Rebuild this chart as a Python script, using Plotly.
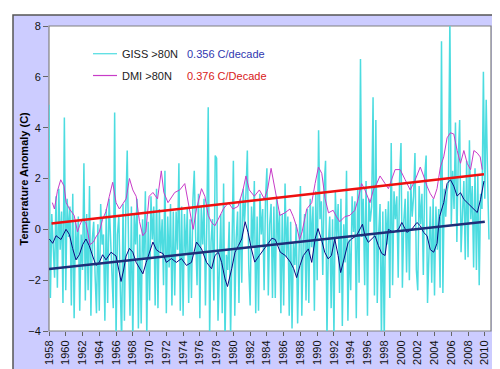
import plotly.graph_objects as go

# ---------------- data ----------------
# GISS >80N, approx. bimonthly samples starting Jan 1958
giss_start = 1958.0
giss_step = 1 / 6
giss_values = [
    4.9, -2.7, 0.6, -0.4, -1.9, 1.3,      # 1958
    -2.3, 1.6, -0.8, 0.7, -2.9, 4.4,      # 1959
    -2.4, 1.2, -0.3, 0.9, -3.0, 1.4,      # 1960
    -3.5, 0.3, -1.2, 0.5, -3.2, -0.2,     # 1961
    -1.6, 2.6, -2.8, 0.6, -2.4, 1.7,      # 1962
    -3.4, -0.4, 0.3, -1.8, -3.3, 0.2,     # 1963
    -3.2, 1.0, -0.6, -0.2, -3.6, 0.8,     # 1964
    -2.9, 1.2, -0.5, -1.4, -3.1, 4.6,     # 1965
    -4.3, -0.2, 0.5, -2.2, -4.4, 1.0,     # 1966
    -3.6, 0.8, 3.1, -0.8, -3.4, 0.9,      # 1967
    -4.5, 0.6, -0.6, 1.2, -3.9, -0.2,     # 1968
    -3.7, 0.4, -1.2, 1.5, -4.2, 0.3,      # 1969
    -2.8, 1.3, -0.4, 0.9, -3.0, 1.6,      # 1970
    -3.1, 0.8, -0.9, 0.4, -2.2, 2.3,      # 1971
    -3.3, 0.5, -1.5, 1.0, -3.0, 0.7,      # 1972
    -2.6, 0.7, -0.8, 2.6, -3.2, 0.9,      # 1973
    -3.4, 0.6, -1.0, 0.8, -2.9, 0.4,      # 1974
    -2.7, 1.1, 2.3, -0.3, -2.2, 1.4,      # 1975
    -3.5, 0.9, -0.6, 1.2, -3.0, 0.3,      # 1976
    4.8, -4.2, -0.5, 0.4, -2.8, 2.9,      # 1977
    2.8, -3.6, -0.9, 0.6, -3.3, 1.8,      # 1978
    -4.5, -1.0, -1.6, 0.3, -4.2, -0.6,    # 1979
    2.7, -3.4, -0.4, 0.7, -2.9, 1.2,      # 1980
    -2.1, 1.6, 0.3, 1.4, 3.1, -1.4,       # 1981
    -3.0, 0.9, -0.7, 1.9, -3.3, 0.5,      # 1982
    -3.2, 1.4, -0.2, 0.8, -2.4, 1.2,      # 1983
    2.4, -2.6, 0.2, 1.0, -2.7, 0.9,       # 1984
    -2.7, 1.3, -0.6, 0.7, -3.3, 0.6,      # 1985
    -3.0, 1.8, -1.1, 0.5, -3.4, 0.3,      # 1986
    -3.9, -0.5, -1.4, 0.2, -3.7, -0.9,    # 1987
    1.7, -3.4, -0.5, 0.6, -2.8, 0.8,      # 1988
    -2.9, 1.2, -0.7, 0.9, -3.2, 1.5,      # 1989
    -2.0, 3.9, 0.4, 1.1, -1.8, 1.7,       # 1990
    2.7, -4.3, -0.6, 0.5, -3.1, 0.4,      # 1991
    -4.2, 1.5, -0.3, 1.0, -2.5, 1.2,      # 1992
    -3.8, 0.2, -1.3, 2.3, -3.6, -0.4,     # 1993
    -2.4, 1.3, -0.1, 1.1, -3.5, 1.6,      # 1994
    -2.1, 6.7, -0.3, 1.2, -2.2, 1.9,      # 1995
    -3.4, 1.2, 0.3, 0.9, 5.2, -2.6,       # 1996
    4.3, -2.9, -0.2, 1.0, -4.3, 0.7,      # 1997
    -4.4, 0.8, -0.6, 1.1, -2.7, 3.4,      # 1998
    -2.2, 1.5, 0.4, 1.3, -1.9, 2.0,       # 1999
    3.4, -2.3, 0.3, 1.2, -1.7, 1.5,       # 2000
    -2.0, 1.8, 0.5, 1.3, 3.0, -1.6,       # 2001
    -2.4, 1.7, 0.2, 1.4, -1.8, 2.1,       # 2002
    2.9, -2.9, -0.3, 0.9, -2.1, 1.2,      # 2003
    -2.6, 0.9, -0.8, 0.8, -2.3, 7.4,      # 2004
    -2.5, 1.6, 0.5, 1.5, 1.8, 8.3,        # 2005
    0.2, 2.3, 0.8, 4.2, -0.5, 2.8,        # 2006
    4.3, -0.9, 0.6, 1.9, -1.2, 2.7,       # 2007
    -1.1, 3.5, 0.4, 1.7, -1.5, 2.4,       # 2008
    -1.6, 2.1, -2.2, 1.4, 0.8, 6.2,       # 2009
    1.2, 5.1, 2.0, -0.4,                  # 2010
]

# GISS >80N smoothed (dark blue)
giss_smooth_years = [
    1958.04, 1958.44, 1958.84, 1959.43, 1960.03, 1960.43, 1960.82, 1961.22, 1961.62, 1962.02,
    1962.41, 1962.81, 1963.21, 1963.61, 1964.0, 1964.4, 1964.8, 1965.4, 1966.0, 1966.6,
    1966.9, 1967.2, 1967.6, 1968.0, 1968.4, 1968.8, 1969.2, 1969.6, 1970.0, 1970.4,
    1970.8, 1971.2, 1971.6, 1972.0, 1972.6, 1973.2, 1973.8, 1974.4, 1975.0, 1975.6,
    1976.2, 1976.8, 1977.4, 1977.8, 1978.2, 1978.6, 1979.0, 1979.3, 1979.8, 1980.2,
    1980.6, 1981.0, 1981.4, 1981.75, 1982.15, 1982.55, 1983.1, 1983.7, 1984.3, 1984.6,
    1985.0, 1985.6, 1986.2, 1986.8, 1987.2, 1987.55, 1987.95, 1988.35, 1988.95, 1989.35,
    1989.75, 1990.1, 1990.5, 1990.9, 1991.3, 1991.7, 1992.1, 1992.5, 1992.8, 1993.3,
    1993.7, 1994.1, 1994.7, 1995.4, 1995.7, 1996.1, 1996.5, 1996.9, 1997.3, 1997.7,
    1998.1, 1998.5, 1999.1, 1999.7, 2000.1, 2000.7, 2001.3, 2001.9, 2002.3, 2002.7,
    2003.1, 2003.5, 2003.9, 2004.3, 2004.6, 2005.1, 2005.5, 2005.9, 2006.3, 2006.7,
    2007.1, 2007.5, 2007.9, 2008.3, 2008.7, 2009.1, 2009.5, 2009.9,
]
giss_smooth_values = [
    -0.38, -0.55, -0.25, -0.40, 0.0, -0.2, -0.75, -1.2, -1.0, -0.6,
    -0.38, -0.65, -1.05, -1.42, -1.3, -1.0, -1.2, -0.9, -1.05, -2.05,
    -1.6, -1.05, -0.75, -0.9, -1.3, -1.55, -1.75, -1.3, -0.9, -0.5,
    -0.8, -0.9, -0.95, -1.3, -1.15, -1.3, -1.15, -1.42, -1.3, -0.5,
    -0.77, -1.3, -1.55, -1.03, -0.9, -1.3, -1.95, -2.25, -1.55, -0.9,
    -0.64, -0.38, 0.3, -0.12, -0.77, -1.29, -1.03, -0.77, -0.51, -0.35,
    -0.4, -0.9, -1.03, -1.29, -1.55, -1.9, -1.42, -1.03, -0.77, -1.3,
    -0.38, 0.03, -0.38, -0.9, -1.16, -1.03, -0.38, -1.03, -1.7, -1.03,
    -0.51, -0.38, -0.25, 0.2, -0.25, -0.51, -0.38, -0.25, -0.64, -0.95,
    -1.03, 0.0, -0.12, 0.0, 0.27, -0.12, 0.01, 0.27, 0.14, -0.12,
    -0.25, -0.8, -0.9, -0.55, 0.5, 1.05, 1.8, 1.95, 1.7, 1.31,
    1.44, 1.18, 1.05, 0.92, 0.79, 0.66, 1.18, 1.9,
]

# DMI >80N smoothed (magenta)
dmi_years = [
    1958.4, 1958.65, 1959.0, 1959.4, 1959.8, 1960.05, 1960.45, 1961.0, 1961.4, 1961.65,
    1962.0, 1962.4, 1962.9, 1963.3, 1963.6, 1964.0, 1964.4, 1964.8, 1965.2, 1965.6,
    1966.0, 1966.4, 1966.8, 1967.2, 1967.6, 1968.0, 1968.4, 1968.8, 1969.2, 1969.55,
    1969.95, 1970.4, 1970.95, 1971.4, 1971.7, 1972.2, 1973.0, 1973.6, 1974.2, 1974.8,
    1975.2, 1975.6, 1976.2, 1976.6, 1977.0, 1977.4, 1977.8, 1978.2, 1978.8, 1979.4,
    1979.95, 1980.55, 1981.15, 1981.5, 1981.9, 1982.5, 1983.1, 1983.7, 1984.1, 1984.5,
    1984.95, 1985.2, 1985.55, 1986.15, 1986.75, 1987.15, 1987.55, 1987.9, 1988.2, 1988.75,
    1989.35, 1989.75, 1990.15, 1990.55, 1990.95, 1991.35, 1991.9, 1992.3, 1992.7, 1993.3,
    1993.9, 1994.5, 1994.9, 1995.3, 1995.7, 1996.3, 1996.7, 1997.1, 1997.5, 1998.1,
    1998.5, 1999.3, 1999.9, 2000.5, 2001.1, 2001.7, 2002.3, 2002.7, 2003.1, 2003.5,
    2003.9, 2004.3, 2004.7, 2005.1, 2005.5, 2005.9, 2006.3, 2006.7, 2007.1, 2007.5,
    2007.9, 2008.3, 2008.7, 2009.1, 2009.45, 2009.7,
]
dmi_values = [
    1.05, 0.8, 1.5, 1.95, 1.7, 1.05, 0.8, 0.55, -0.1, 0.15,
    0.4, 0.27, -0.6, -0.5, -0.3, -0.1, 0.4, 0.7, 1.3, 1.85,
    1.05, 0.8, 1.0, 1.2, 2.0, 1.55, 1.3, 0.3, -0.25, -0.1,
    1.3, 1.45, 1.2, 2.3, 1.45, 1.05, 1.45, 1.55, 1.8, 0.8,
    0.0, 0.8, 1.6, 1.3, 0.55, 0.27, 0.14, 0.4, 0.8, 1.05,
    0.8, 0.9, 1.55, 2.1, 1.55, 1.3, 1.55, 1.2, 1.6, 2.4,
    1.6, 1.3, 0.55, 0.65, 0.8, 0.5, 0.1, -0.4, -0.1, 0.8,
    1.05, 1.8, 2.45, 2.2, 1.2, 0.65, 0.75, 0.5, 0.3, 0.5,
    0.55, 0.75, 1.2, 1.8, 1.55, 1.05, 1.55, 1.8, 2.1, 1.8,
    1.6, 2.35, 2.35, 1.95, 1.55, 1.95, 2.45, 2.1, 1.7, 1.4,
    1.2, 1.6, 2.45, 2.85, 3.6, 3.8, 3.75, 3.1, 2.6, 3.1,
    2.6, 2.35, 3.1, 3.0, 2.85, 2.35,
]

# Linear trends (end points)
dmi_trend_years = [1958.3, 2009.9]
dmi_trend_values = [0.23, 2.17]
giss_trend_years = [1958.0, 2010.0]
giss_trend_values = [-1.56, 0.30]

x_tick_years = list(range(1958, 2011, 2))
y_ticks = [-4, -2, 0, 2, 4, 6, 8]

legend_labels = ["GISS >80N", "DMI >80N"]
trend_labels = ["0.356 C/decade", "0.376 C/Decade"]
y_title = "Temperature Anomaly (C)"

# ---------------- figure ----------------
W, H = 500, 369
L, R, T, B = 41, 483, 16, 324   # plot area in pixels


def px_x(px):
    return (px - L) / (R - L)


def px_y(py):
    return (B - py) / (B - T)


FONT = "Arial, 'Liberation Sans', sans-serif"
CYAN = "#4CDCE0"
MAGENTA = "#C83CC8"
NAVY = "#0A0A80"
RED = "#EE1010"
NAVY_TREND = "#1E2E78"

giss_years = [giss_start + i * giss_step for i in range(len(giss_values))]

fig = go.Figure()
fig.add_trace(go.Scatter(x=giss_years, y=giss_values, mode="lines",
                         line=dict(color=CYAN, width=1.5), name=legend_labels[0]))
fig.add_trace(go.Scatter(x=dmi_years, y=dmi_values, mode="lines",
                         line=dict(color=MAGENTA, width=1), name=legend_labels[1]))
fig.add_trace(go.Scatter(x=giss_smooth_years, y=giss_smooth_values, mode="lines",
                         line=dict(color=NAVY, width=1), name="GISS smooth"))
fig.add_trace(go.Scatter(x=dmi_trend_years, y=dmi_trend_values, mode="lines",
                         line=dict(color=RED, width=2.6), name="DMI trend"))
fig.add_trace(go.Scatter(x=giss_trend_years, y=giss_trend_values, mode="lines",
                         line=dict(color=NAVY_TREND, width=2.6), name="GISS trend"))

shapes = [
    # outer frame
    dict(type="rect", xref="paper", yref="paper", layer="below",
         x0=px_x(5), x1=px_x(492), y0=px_y(364), y1=px_y(5),
         fillcolor="#CCCCFF", line=dict(color="#555555", width=1.5)),
    # plot area
    dict(type="rect", xref="paper", yref="paper", layer="below",
         x0=0, x1=1, y0=0, y1=1,
         fillcolor="white", line=dict(color="#808080", width=1.2)),
    # legend keys
    dict(type="line", xref="paper", yref="paper",
         x0=px_x(85), x1=px_x(109), y0=px_y(44), y1=px_y(44),
         line=dict(color=CYAN, width=1.2)),
    dict(type="line", xref="paper", yref="paper",
         x0=px_x(85), x1=px_x(109), y0=px_y(66), y1=px_y(66),
         line=dict(color=MAGENTA, width=1.2)),
]

annotations = [
    dict(x=px_x(112), y=px_y(44), xref="paper", yref="paper", text=legend_labels[0],
         showarrow=False, xanchor="left", yanchor="middle",
         font=dict(family=FONT, size=11, color="#222222")),
    dict(x=px_x(112), y=px_y(66), xref="paper", yref="paper", text=legend_labels[1],
         showarrow=False, xanchor="left", yanchor="middle",
         font=dict(family=FONT, size=11, color="#222222")),
    dict(x=px_x(177), y=px_y(44), xref="paper", yref="paper", text=trend_labels[0],
         showarrow=False, xanchor="left", yanchor="middle",
         font=dict(family=FONT, size=11, color="#3038B0")),
    dict(x=px_x(177), y=px_y(66), xref="paper", yref="paper", text=trend_labels[1],
         showarrow=False, xanchor="left", yanchor="middle",
         font=dict(family=FONT, size=11, color="#D82020")),
    dict(x=px_x(15), y=0.5, xref="paper", yref="paper", text="<b>" + y_title + "</b>",
         showarrow=False, textangle=-90, xanchor="center", yanchor="middle",
         font=dict(family=FONT, size=11, color="black")),
]

fig.update_layout(
    width=W, height=H,
    margin=dict(l=L, r=W - R, t=T, b=H - B, pad=0),
    paper_bgcolor="white", plot_bgcolor="white",
    showlegend=False,
    shapes=shapes, annotations=annotations,
    xaxis=dict(range=[1958, 2010.74], tickmode="array", tickvals=x_tick_years,
               ticktext=[str(y) for y in x_tick_years], tickangle=-90,
               ticks="outside", ticklen=4, tickcolor="#666666",
               showgrid=False, zeroline=False, showline=False,
               tickfont=dict(family=FONT, size=11, color="#111111")),
    yaxis=dict(range=[-4, 8], tickmode="array", tickvals=y_ticks,
               ticks="outside", ticklen=5, tickcolor="#666666",
               showgrid=False, zeroline=False, showline=False,
               tickfont=dict(family=FONT, size=11, color="#111111")),
)

fig.write_html("out.html")
